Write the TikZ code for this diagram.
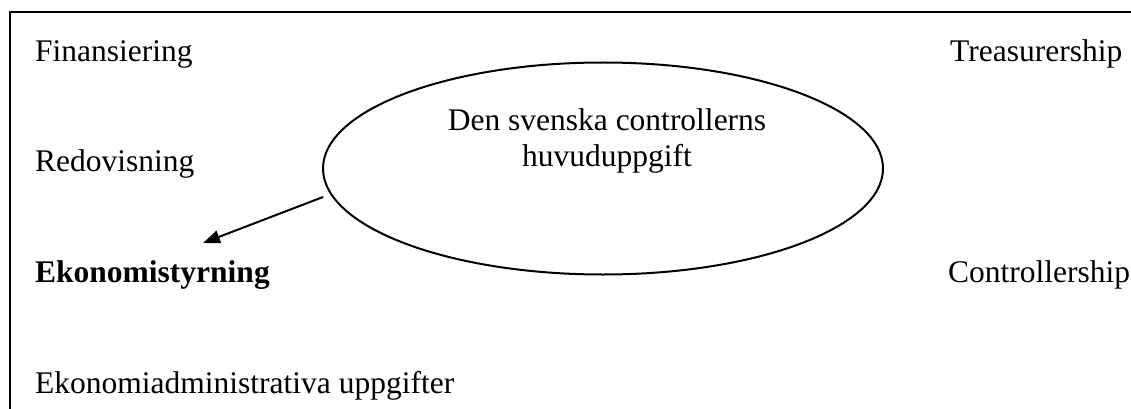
\documentclass[tikz,border=0pt]{standalone}
\usepackage{fontspec}
\setmainfont{Liberation Serif}
\usetikzlibrary{arrows.meta,shapes.geometric}
\begin{document}
\begin{tikzpicture}[x=1pt,y=-1pt,
  lbl/.style={anchor=base west,inner sep=0pt,font=\fontsize{31.5}{36}\selectfont},
  rim/.style={line width=2pt,line join=miter},
  oval/.style={draw,ellipse,line width=2pt,minimum width=560pt,minimum height=212pt,inner sep=0pt},
  pointer/.style={line width=2pt,-{Triangle[length=17pt,width=13pt]}}]
  \useasboundingbox (0,0) rectangle (1131,409);
  % open frame: top and left edges only
  \draw[rim] (10,409) -- (10,12) -- (1131,12);
  % left column
  \node[lbl] (fin) at (35,62) {Finansiering};
  \node[lbl] (red) at (35,171) {Redovisning};
  \node[lbl] (eko) at (35,282) {\bfseries Ekonomistyrning};
  \node[lbl] (adm) at (35,393) {Ekonomiadministrativa uppgifter};
  % right column
  \node[lbl] (tre) at (950,62) {Treasurership};
  \node[lbl] (con) at (948,282) {Controllership};
  % central ellipse
  \node[oval] (ell) at (603,168.5) {};
  \node[align=center,inner sep=0pt,anchor=base,font=\fontsize{31.5}{36}\selectfont] (elltxt) at (607,166)
    {Den svenska controllerns\\huvuduppgift};
  % arrow from the ellipse towards Ekonomistyrning
  \coordinate (src) at ([xshift=-9pt]ell.186);
  \coordinate (tip) at (203,243);
  \draw[pointer] (src) -- (tip);
\end{tikzpicture}
\end{document}
